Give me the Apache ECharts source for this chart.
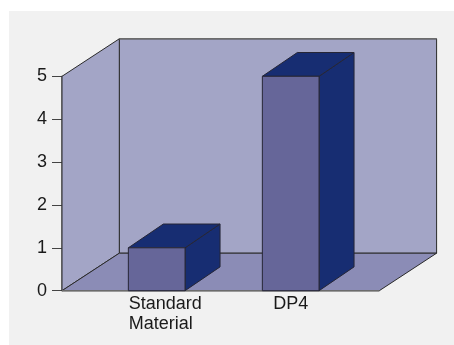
<!DOCTYPE html>
<html>
<head>
<meta charset="utf-8">
<script src="https://cdn.jsdelivr.net/npm/echarts@6/dist/echarts.min.js"></script>
<style>
  html, body { margin: 0; padding: 0; background: #ffffff; }
  #chart { width: 454px; height: 345px; }
</style>
</head>
<body>
<div id="chart"></div>
<script>
// Chart data
const categories = ['Standard\nMaterial', 'DP4'];
const values = [1, 5];
const yTicks = [0, 1, 2, 3, 4, 5];

// Oblique projection of the 3D box (pixels)
const DEPTH_X = 57.3, DEPTH_Y = 37.5;       // full floor depth
const BAR_DEPTH_X = 35, BAR_DEPTH_Y = 23.8; // column depth
const FRAME_PAD_LEFT = 27.7, FRAME_PAD_RIGHT = 21.6;

const chart = echarts.init(document.getElementById('chart'), null, { renderer: 'canvas' });

function renderFrame(params, api) {
  const cs = params.coordSys;
  const y0 = api.coord([0, yTicks[0]])[1];
  const yTop = api.coord([0, yTicks[yTicks.length - 1]])[1];
  const xl = cs.x - FRAME_PAD_LEFT;
  const xr = cs.x + cs.width + FRAME_PAD_RIGHT;
  const dx = DEPTH_X, dy = DEPTH_Y;
  const dark = '#2b2b2b';
  const grey = '#6c6c6c';
  return {
    type: 'group',
    children: [
      { // back wall
        type: 'polygon',
        shape: { points: [[xl + dx, yTop - dy], [xr + dx, yTop - dy], [xr + dx, y0 - dy], [xl + dx, y0 - dy]] },
        style: { fill: '#a3a5c6', stroke: dark, lineWidth: 1 }
      },
      { // side wall
        type: 'polygon',
        shape: { points: [[xl, y0], [xl, yTop], [xl + dx, yTop - dy], [xl + dx, y0 - dy]] },
        style: { fill: '#a3a5c6', stroke: dark, lineWidth: 1 }
      },
      { // floor
        type: 'polygon',
        shape: { points: [[xl, y0], [xr, y0], [xr + dx, y0 - dy], [xl + dx, y0 - dy]] },
        style: { fill: '#8b8cb6', stroke: dark, lineWidth: 1 }
      },
      { // outer edges
        type: 'polyline',
        shape: { points: [[xl + dx, yTop - dy], [xr + dx, yTop - dy]] },
        style: { stroke: grey, lineWidth: 1.6, fill: null }
      },
      {
        type: 'polyline',
        shape: { points: [[xl, y0], [xr, y0]] },
        style: { stroke: grey, lineWidth: 1.4, fill: null }
      }
    ]
  };
}

function renderBar(params, api) {
  const cat = api.value(0);
  const base = api.coord([cat, 0]);
  const top = api.coord([cat, api.value(1)]);
  const band = api.size([1, 0])[0];
  const w = band * 0.423;
  const x = base[0] - w / 2;
  const y0 = base[1], y1 = top[1];
  const bx = BAR_DEPTH_X, by = BAR_DEPTH_Y;
  const stroke = '#262636';
  return {
    type: 'group',
    children: [
      {
        type: 'polygon',
        shape: { points: [[x + w, y1], [x + w + bx, y1 - by], [x + w + bx, y0 - by], [x + w, y0]] },
        style: { fill: '#172d72', stroke: stroke, lineWidth: 1 }
      },
      {
        type: 'polygon',
        shape: { points: [[x, y1], [x + w, y1], [x + w + bx, y1 - by], [x + bx, y1 - by]] },
        style: { fill: '#172d72', stroke: stroke, lineWidth: 1 }
      },
      {
        type: 'rect',
        shape: { x: x, y: y1, width: w, height: y0 - y1 },
        style: { fill: '#666699', stroke: stroke, lineWidth: 1 }
      }
    ]
  };
}

chart.setOption({
  animation: false,
  backgroundColor: '#ffffff',
  graphic: [{
    type: 'rect', z: -10, silent: true,
    shape: { x: 9, y: 11, width: 445, height: 334 },
    style: { fill: '#f1f1f1' }
  }],
  grid: { left: 89.7, right: 96.3, top: 76.3, bottom: 54.3 },
  xAxis: {
    type: 'category',
    data: categories,
    axisLine: { show: false },
    axisTick: { show: false },
    splitLine: { show: false },
    axisLabel: {
      margin: 3,
      color: '#1a1a1a',
      fontFamily: 'Liberation Sans, Arial, sans-serif',
      fontSize: 18,
      lineHeight: 20,
      formatter: function (v) {
        if (v.indexOf('\n') < 0) return v;
        return v.split('\n').map(s => '{l|' + s + '}').join('\n');
      },
      rich: {
        l: { width: 56, align: 'left', fontSize: 18, lineHeight: 20, color: '#1a1a1a',
             fontFamily: 'Liberation Sans, Arial, sans-serif' }
      }
    }
  },
  yAxis: {
    type: 'value',
    min: yTicks[0],
    max: yTicks[yTicks.length - 1],
    interval: 1,
    offset: 27.7,
    splitLine: { show: false },
    axisLine: { show: true, lineStyle: { color: '#6c6c6c', width: 1.5 } },
    axisTick: { show: true, length: 10, lineStyle: { color: '#444', width: 1 } },
    axisLabel: {
      margin: 15,
      color: '#1a1a1a',
      fontFamily: 'Liberation Sans, Arial, sans-serif',
      fontSize: 18
    }
  },
  series: [
    {
      type: 'custom',
      z: 1,
      clip: false,
      silent: true,
      renderItem: renderFrame,
      data: [[0, 0]]
    },
    {
      type: 'custom',
      z: 2,
      clip: false,
      silent: true,
      renderItem: renderBar,
      encode: { x: 0, y: 1 },
      data: values.map((v, i) => [i, v])
    }
  ]
});
</script>
</body>
</html>
